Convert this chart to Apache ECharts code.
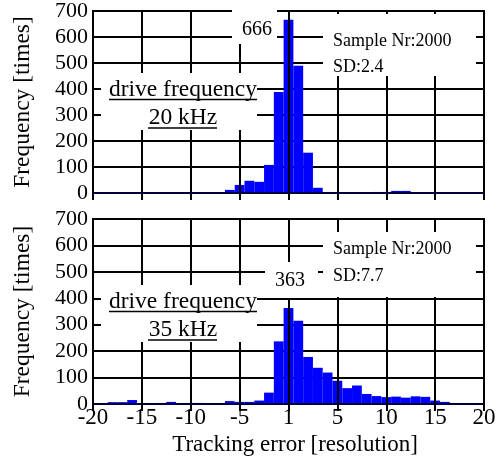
<!DOCTYPE html>
<html><head><meta charset="utf-8">
<script src="https://cdn.jsdelivr.net/npm/echarts@6/dist/echarts.min.js"></script>
<style>html,body{margin:0;padding:0;background:#fff}#c{width:503px;height:463px}</style>
</head><body><div id="c"></div>
<script>
// bin centers (tracking error, resolution units)
const binCenters = [-19,-18,-17,-16,-15,-14,-13,-12,-11,-10,-9,-8,-7,-6,-5,-4,-3,-2,-1,0,1,2,3,4,5,6,7,8,9,10,11,12,13,14,15,16,17,18,19];
// drive frequency 20 kHz
const freq20 = [0,0,0,0,0,0,0,0,0,0,0,0,1,12,31,47,43,108,388,666,489,155,20,4,1,2,2,2,4,4,8,8,2,0,0,0,0,0,0];
// drive frequency 35 kHz
const freq35 = [2,7,7,15,3,1,4,8,3,4,4,2,2,11,8,8,13,43,237,363,315,178,137,119,88,60,70,38,30,26,28,24,29,27,13,8,3,2,3];
const xTickValues = [-20,-15,-10,-5,0,5,10,15,20];
const xTickLabels = ['-20','-15','-10','-5','1','5','10','15','20'];
const yTicks = [0,100,200,300,400,500,600,700];

const FONT = '"Liberation Serif", "Times New Roman", serif';
const chart = echarts.init(document.getElementById('c'), null, {renderer:'canvas'});

function pairs(vals){ return binCenters.map((c,i)=>[c, vals[i]]); }
function renderBar(params, api){
  const x = api.value(0), y = api.value(1);
  const p0 = api.coord([x-0.5, y]);
  const p1 = api.coord([x+0.5, 0]);
  return {type:'rect', shape:{x:p0[0], y:p0[1], width:p1[0]-p0[0], height:p1[1]-p0[1]}, style:{fill:'#0000ff'}};
}
function mainX(gi, showLabels){
  return {type:'value', gridIndex:gi, min:-20, max:20, interval:5, position:'bottom',
    name: showLabels ? 'Tracking error [resolution]' : '', nameLocation:'middle', nameGap:29,
    nameTextStyle:{fontFamily:FONT, fontSize:23, color:'#000', padding:[0,0,0,13]},
    axisLine:{show:true, onZero:false, lineStyle:{color:'#00003a', width:2}},
    axisTick:{show:true, inside:true, length:7, lineStyle:{color:'#000', width:2}},
    axisLabel:{show:showLabels, fontFamily:FONT, fontSize:23, color:'#000', margin:2,
      formatter:v=>{const i=xTickValues.indexOf(v); return i>=0?xTickLabels[i]:'';}},
    splitLine:{show:true, lineStyle:{color:'#000', width:2}}, z:3};
}
function topX(gi){
  return {type:'value', gridIndex:gi, min:-20, max:20, interval:5, position:'top',
    axisLine:{show:false}, axisTick:{show:true, inside:true, length:7, lineStyle:{color:'#000', width:2}},
    axisLabel:{show:false}, splitLine:{show:false}};
}
function mainY(gi){
  return {type:'value', gridIndex:gi, min:0, max:700, interval:100, position:'left',
    name:'Frequency [times]', nameLocation:'middle', nameGap:58,
    nameTextStyle:{fontFamily:FONT, fontSize:23.5, color:'#000'},
    axisLine:{show:true, lineStyle:{color:'#000', width:2}},
    axisTick:{show:true, inside:true, length:7, lineStyle:{color:'#000', width:2}},
    axisLabel:{fontFamily:FONT, fontSize:22, color:'#000', margin:5,
      formatter:v=>yTicks.indexOf(v)>=0?String(v):''},
    splitLine:{show:true, lineStyle:{color:'#000', width:2}}};
}
function rightY(gi){
  return {type:'value', gridIndex:gi, min:0, max:700, interval:100, position:'right',
    axisLine:{show:false}, axisTick:{show:true, inside:true, length:7, lineStyle:{color:'#000', width:2}},
    axisLabel:{show:false}, splitLine:{show:false}};
}

function box(x,y,w,h){ return {type:'rect', z:20, shape:{x:x,y:y,width:w,height:h}, style:{fill:'#fff'}}; }
function txt(t,x,y,size,align){ return {type:'text', z:21, x:x, y:y, style:{text:t, font:size+'px '+FONT, fill:'#000', align:align||'center', verticalAlign:'middle'}}; }
function uline(x1,x2,y){ return {type:'line', z:21, shape:{x1:x1,y1:y,x2:x2,y2:y}, style:{stroke:'#000', lineWidth:1.5}}; }

const dy = 212;
const graphics = [
  // top panel
  box(101,73,156,57), txt('drive frequency',183,90,23.5), uline(109,257,99.5), txt('20 kHz',183,118,23.5), uline(148,217,128),
  box(232,9,45,35), txt('666',257,30,20),
  box(323,14,153,62), txt('Sample Nr:2000',333,41,18,'left'), txt('SD:2.4',333,67,18,'left'),
  // bottom panel
  box(101,73+dy,156,57), txt('drive frequency',183,90+dy,23.5), uline(109,257,99.5+dy), txt('35 kHz',183,118+dy,23.5), uline(148,217,128+dy),
  box(265,262,53,36), txt('363',290,281,20),
  box(323,232,153,65), txt('Sample Nr:2000',333,249,18,'left'), txt('SD:7.7',333,276,18,'left')
];

chart.setOption({
  animation:false,
  backgroundColor:'#fff',
  grid:[
    {left:93, right:19, top:7, height:186, show:true, borderColor:'#000', borderWidth:2, backgroundColor:'transparent'},
    {left:93, right:19, top:219, height:185, show:true, borderColor:'#000', borderWidth:2, backgroundColor:'transparent'}
  ],
  xAxis:[mainX(0,false), mainX(1,true), topX(0), topX(1)],
  yAxis:[mainY(0), mainY(1), rightY(0), rightY(1)],
  series:[
    {type:'custom', name:'20 kHz', xAxisIndex:0, yAxisIndex:0, renderItem:renderBar, encode:{x:0,y:1}, data:pairs(freq20), z:2},
    {type:'custom', name:'35 kHz', xAxisIndex:1, yAxisIndex:1, renderItem:renderBar, encode:{x:0,y:1}, data:pairs(freq35), z:2}
  ],
  graphic:graphics
});
</script></body></html>
